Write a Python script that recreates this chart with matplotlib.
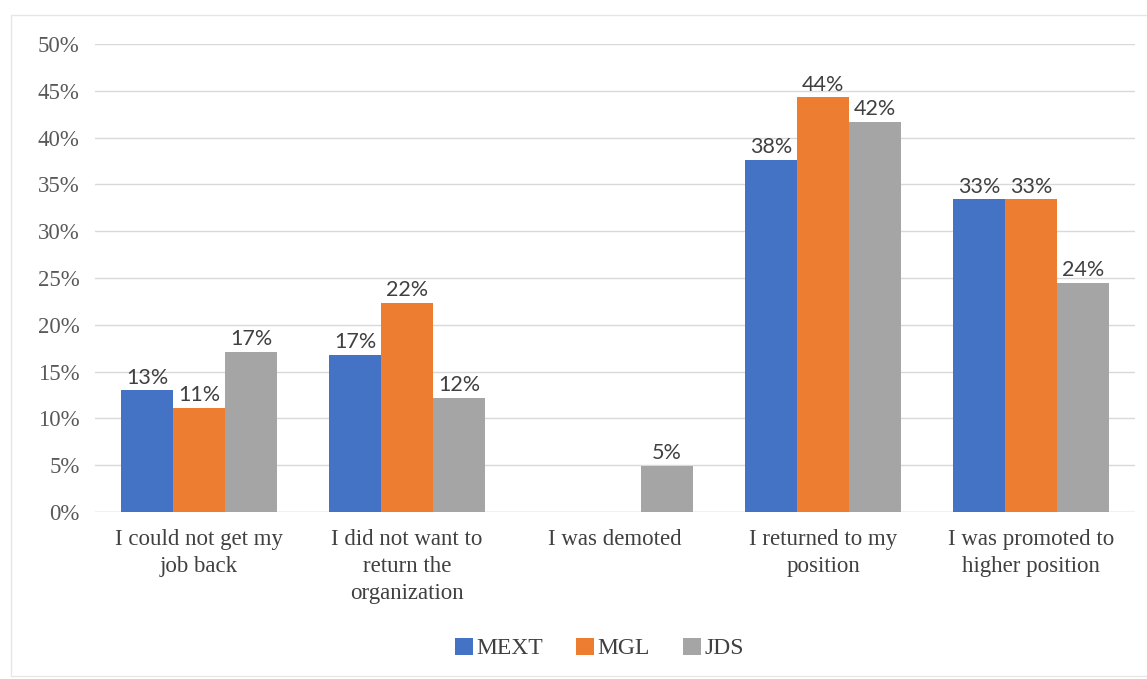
import matplotlib
matplotlib.use("Agg")
import matplotlib.pyplot as plt
from matplotlib.patches import Rectangle
import numpy as np

categories = [
    "I could not get my\njob back",
    "I did not want to\nreturn the\norganization",
    "I was demoted",
    "I returned to my\nposition",
    "I was promoted to\nhigher position",
]
series_names = ["MEXT", "MGL", "JDS"]
mext = [0.130, 0.168, 0.0, 0.376, 0.334]
mgl = [0.111, 0.223, 0.0, 0.443, 0.334]
jds = [0.171, 0.122, 0.049, 0.417, 0.245]
yticks = [0.0, 0.05, 0.10, 0.15, 0.20, 0.25, 0.30, 0.35, 0.40, 0.45, 0.50]

colors = ["#4472C4", "#ED7D31", "#A5A5A5"]
serif = ["Liberation Serif", "DejaVu Serif"]
sans = ["Lato", "DejaVu Sans"]

fig = plt.figure(figsize=(11.47, 6.79), dpi=100)
fig.patches.append(Rectangle((0.010, 0.005), 0.995, 0.973, transform=fig.transFigure,
                             fill=False, edgecolor="#e6e6e6", linewidth=1.0))
ax = fig.add_axes([0.0828, 0.2459, 0.9067, 0.6893])

x = np.arange(len(categories))
w = 0.25
for i, (vals, name) in enumerate(zip([mext, mgl, jds], series_names)):
    pos = x + (i - 1) * w
    ax.bar(pos, vals, width=w, color=colors[i], label=name, zorder=3)
    for px, v in zip(pos, vals):
        if v > 0:
            ax.text(px, v + 0.003, f"{v * 100:.0f}%", ha="center", va="bottom",
                    fontsize=15.5, color="#404040", family=sans, zorder=4)

ax.set_xlim(-0.5, len(categories) - 0.5)
ax.set_ylim(0, 0.5)
ax.set_yticks(yticks)
ax.set_yticklabels([f"{t * 100:.0f}%" for t in yticks], family=serif,
                   fontsize=16.5, color="#595959")
ax.set_xticks(x)
ax.set_xticklabels(categories, family=serif, fontsize=16.5, color="#404040",
                   linespacing=1.38, va="top")
ax.tick_params(axis="both", length=0)
ax.tick_params(axis="y", pad=11)
ax.tick_params(axis="x", pad=12)
ax.grid(axis="y", color="#d9d9d9", linewidth=1.0, zorder=0)
for s in ax.spines.values():
    s.set_visible(False)
ax.axhline(0, color="#d9d9d9", linewidth=1.0, zorder=1)

leg = fig.legend(loc="center", bbox_to_anchor=(0.5225, 0.045), ncol=3, frameon=False,
                 prop={"family": serif, "size": 17}, handlelength=0.75, handleheight=0.75,
                 handletextpad=0.15, columnspacing=1.4)
for t in leg.get_texts():
    t.set_color("#404040")

fig.savefig("out.png", dpi=100)
